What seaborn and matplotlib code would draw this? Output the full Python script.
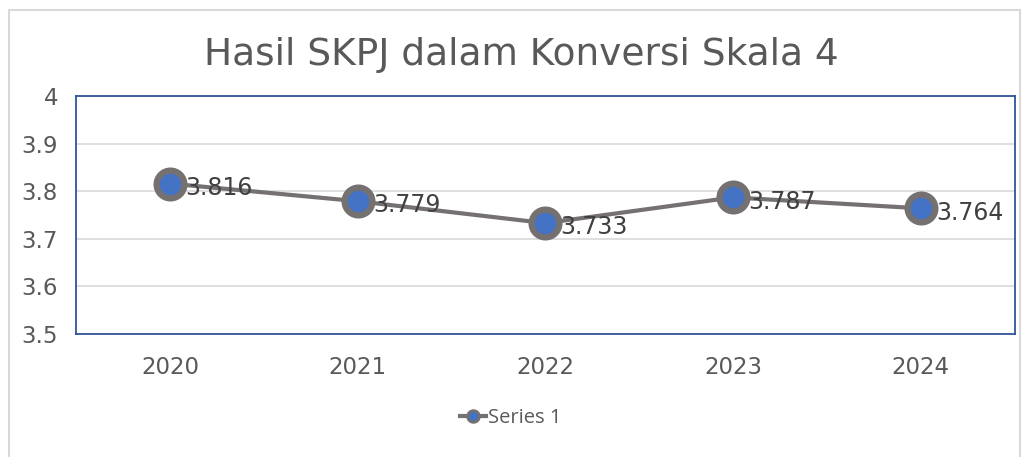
import seaborn as sns
import pandas as pd
import matplotlib.pyplot as plt
from matplotlib.patches import Rectangle

skpj_data = pd.DataFrame({
    "Tahun": ["2020", "2021", "2022", "2023", "2024"],
    "Nilai": [3.816, 3.779, 3.733, 3.787, 3.764],
    "Seri": ["Series 1"] * 5
})

fig, ax = plt.subplots(figsize=(10.28, 4.57), dpi=100)
fig.subplots_adjust(left=0.074, right=0.987, bottom=0.269, top=0.790)
fig.patches.append(Rectangle((9 / 1028, -0.1), 1011 / 1028, 1.1 - 10 / 457, transform=fig.transFigure,
                             fill=False, edgecolor="#D9D9D9", linewidth=1.5))

sns.lineplot(
    data = skpj_data,
    x = "Tahun",
    y = "Nilai",
    hue = "Seri",
    palette = ["#767171"],
    marker = "o",
    markersize = 20,
    markerfacecolor = "#4472C4",
    markeredgecolor = "#767171",
    markeredgewidth = 4.5,
    linewidth = 3,
    ax = ax
)

for i, v in enumerate(skpj_data["Nilai"]):
    ax.annotate(f"{v:.3f}", (i, v), xytext=(11, -3), textcoords="offset points",
                ha="left", va="center", fontsize=17, color="#404040")

ax.set_xlim(-0.5, 4.5)
ax.set_ylim(3.5, 4.0)
ax.set_yticks([3.5, 3.6, 3.7, 3.8, 3.9, 4.0])
ax.set_yticklabels(["3.5", "3.6", "3.7", "3.8", "3.9", "4"])
ax.yaxis.grid(True, color="#D9D9D9", linewidth=1.2)
ax.set_axisbelow(True)
ax.tick_params(length=0, labelsize=16.5, colors="#595959")
ax.tick_params(axis="y", pad=13)
ax.tick_params(axis="x", pad=16)
for spine in ax.spines.values():
    spine.set_color("#2F5597")
    spine.set_linewidth(1.3)
ax.set_xlabel("")
ax.set_ylabel("")

fig.suptitle("Hasil SKPJ dalam Konversi Skala 4", x=0.507, y=0.88, va="center",
             fontsize=27, color="#595959")

handles, labels = ax.get_legend_handles_labels()
fig.legend(handles, labels, loc="center", bbox_to_anchor=(0.497, 0.085), frameon=False,
           prop={'family': 'Open Sans', 'size': 14.5}, labelcolor="#595959",
           handlelength=1.3, handletextpad=0.1, markerscale=0.42)
ax.get_legend().remove()
for line in fig.legends[0].get_lines():
    line.set_markeredgewidth(2)

fig.savefig("out.png", dpi=100)
